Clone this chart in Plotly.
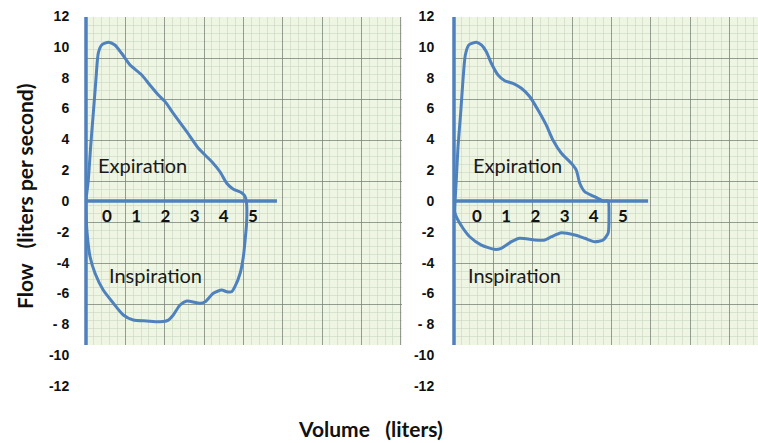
import plotly.graph_objects as go

# ---------------- data ----------------
# Left loop (normal): volume (liters, in tick-label units) and flow (L/s)
left_vol = [-0.72, -0.64, -0.56, -0.47, -0.38, -0.30, -0.18, 0.05, 0.27, 0.50, 0.79, 1.19, 1.47,
            1.76, 1.99, 2.27, 2.73, 3.13, 3.59, 3.87, 4.10, 4.33, 4.61, 4.73, 4.78,
            4.78, 4.73, 4.67, 4.56, 4.38, 4.27, 4.10, 3.93, 3.64, 3.36, 3.19, 2.73, 2.50,
            2.27, 2.10, 1.82, 1.36, 0.90, 0.56, 0.22, -0.13, -0.41, -0.58, -0.68, -0.72, -0.72]
left_flow = [0.0, 1.36, 3.53, 5.69, 7.86, 9.59, 10.13, 10.31, 10.13, 9.59, 8.83, 8.18, 7.53,
             6.88, 6.45, 5.69, 4.50, 3.42, 2.55, 1.90, 1.15, 0.76, 0.54, 0.28, -0.15,
             -1.45, -2.53, -3.62, -4.69, -5.56, -5.89, -5.89, -5.78, -5.99, -6.54, -6.64, -6.49, -6.75,
             -7.40, -7.73, -7.84, -7.79, -7.73, -7.40, -6.64, -5.78, -4.69, -3.62, -2.10, -0.58, 0.0]

# Right loop
right_vol = [-0.75, -0.71, -0.65, -0.56, -0.48, -0.40, -0.28, -0.02, 0.15, 0.32, 0.49, 0.72, 0.95,
             1.23, 1.52, 1.81, 2.09, 2.37, 2.60, 2.89, 3.23, 3.40, 3.52, 3.69, 4.03, 4.32,
             4.49, 4.52, 4.49, 4.32, 4.03, 3.69, 3.35, 2.89, 2.55, 2.32, 1.98, 1.46, 1.18,
             0.83, 0.61, 0.15, -0.25, -0.48, -0.71, -0.76, -0.75]
right_flow = [0.0, 1.36, 3.53, 5.69, 7.86, 9.48, 10.13, 10.31, 10.13, 9.69, 8.94, 8.18, 7.81,
              7.64, 7.32, 6.77, 5.91, 4.94, 3.96, 3.10, 2.45, 2.01, 1.15, 0.60, 0.28, 0.0,
              0.0, -1.0, -2.1, -2.53, -2.64, -2.42, -2.21, -2.06, -2.32, -2.53, -2.53, -2.42, -2.64,
              -3.07, -3.14, -2.86, -2.32, -1.77, -1.02, -0.69, 0.0]

x_ticks = [0, 1, 2, 3, 4, 5]
y_ticks = [12, 10, 8, 6, 4, 2, 0, -2, -4, -6, -8, -10, -12]
y_tick_text = ["12", "10", "8", "6", "4", "2", "0", "-2", "-4", "-6", "- 8", "-10", "-12"]

# ---------------- layout helpers ----------------
W, H = 758, 443
def px(v):
    return v / W
def py(v):
    return 1 - v / H

BLUE = "#4f81bd"
GRID_BG = "#eef6e3"
MAJOR = "rgba(115,125,115,0.75)"
MINOR = "rgba(205,218,198,0.7)"

fig = go.Figure()

fig.add_trace(go.Scatter(x=left_vol, y=left_flow, xaxis="x3", yaxis="y3", mode="lines",
                         line=dict(color=BLUE, width=3, shape="spline", smoothing=0.6),
                         showlegend=False, hoverinfo="skip"))
fig.add_trace(go.Scatter(x=right_vol, y=right_flow, xaxis="x4", yaxis="y4", mode="lines",
                         line=dict(color=BLUE, width=3, shape="spline", smoothing=0.6),
                         showlegend=False, hoverinfo="skip"))
fig.add_trace(go.Scatter(x=[None], y=[None], xaxis="x", yaxis="y", showlegend=False))
fig.add_trace(go.Scatter(x=[None], y=[None], xaxis="x2", yaxis="y2", showlegend=False))

grid_y_dom = [py(345), py(17)]
left_x_dom = [px(86), px(402)]
right_x_dom = [px(454), 1.0]
data_y_dom = [py(386), py(16)]

def grid_axis(dom, rng, anchor):
    return dict(domain=dom, range=rng, anchor=anchor, showticklabels=False, ticks="",
                showgrid=True, gridcolor=MAJOR, gridwidth=1, dtick=1, tick0=0,
                zeroline=False, showline=False, fixedrange=True, automargin=False,
                minor=dict(showgrid=True, dtick=0.2, gridcolor=MINOR, gridwidth=1))

y_data_range = [-12.01, 12.01]
x_pos = py(200)

def data_x(dom, rng):
    return dict(domain=dom, range=rng, anchor="free", position=x_pos, showgrid=False,
                zeroline=False, showline=False, tickmode="array", tickvals=x_ticks,
                ticks="outside", ticklen=1, tickcolor="rgba(0,0,0,0)", automargin=False,
                tickfont=dict(family="Lato", size=17, color="#111111", weight="bold"),
                fixedrange=True)

def data_y(rng, anchor, tl):
    return dict(domain=data_y_dom, range=rng, anchor=anchor, showgrid=False,
                zeroline=False, showline=False, tickmode="array", tickvals=y_ticks,
                ticktext=y_tick_text, ticks="outside", ticklen=tl, automargin=False,
                tickcolor="rgba(0,0,0,0)",
                tickfont=dict(family="Liberation Sans", size=14, color="#111111", weight="bold"),
                fixedrange=True)

fig.update_layout(
    template="none",
    width=W, height=H, margin=dict(l=0, r=0, t=0, b=0, autoexpand=False),
    paper_bgcolor="white", plot_bgcolor="rgba(0,0,0,0)", showlegend=False,
    xaxis=grid_axis(left_x_dom, [0, 316 / 39.35], "y"),
    yaxis=grid_axis(grid_y_dom, [0, 8], "x"),
    xaxis2=grid_axis(right_x_dom, [0, 304 / 39.35], "y2"),
    yaxis2=grid_axis(grid_y_dom, [0, 8], "x2"),
    xaxis3=data_x(left_x_dom, [(86 - 107) / 29.2, (402 - 107) / 29.2]),
    yaxis3=data_y(y_data_range, "x3", 13),
    xaxis4=data_x(right_x_dom, [(454 - 477) / 29.2, (758 - 477) / 29.2]),
    yaxis4=data_y(y_data_range, "x4", 16),
)

# green paper backgrounds
for xr, yr in (("x domain", "y domain"), ("x2 domain", "y2 domain")):
    fig.add_shape(type="rect", xref=xr, yref=yr, x0=0, x1=1, y0=0, y1=1,
                  fillcolor=GRID_BG, line=dict(width=0), layer="below")
# blue axis lines
for xr, yr in (("x domain", "y domain"), ("x2 domain", "y2 domain")):
    fig.add_shape(type="line", xref=xr, yref=yr, x0=0, x1=0, y0=0, y1=1,
                  line=dict(color=BLUE, width=3.5), layer="above")
fig.add_shape(type="line", xref="x3", yref="y3", x0=(86 - 107) / 29.2, x1=5.82, y0=0, y1=0,
              line=dict(color=BLUE, width=3.5))
fig.add_shape(type="line", xref="x4", yref="y4", x0=(454 - 477) / 29.2, x1=5.86, y0=0, y1=0,
              line=dict(color=BLUE, width=3.5))

label_font = dict(family="Lato", size=20, color="#1a1a1a")
fig.add_annotation(x=1.2, y=2.34, xref="x3", yref="y3", text="Expiration", showarrow=False, font=label_font)
fig.add_annotation(x=1.66, y=-4.8, xref="x3", yref="y3", text="Inspiration", showarrow=False, font=label_font)
fig.add_annotation(x=1.37, y=2.34, xref="x4", yref="y4", text="Expiration", showarrow=False, font=label_font)
fig.add_annotation(x=1.30, y=-4.8, xref="x4", yref="y4", text="Inspiration", showarrow=False, font=label_font)

title_font = dict(family="Lato", size=21, color="#111111", weight="bold")
fig.add_annotation(x=px(370), y=py(428), xref="paper", yref="paper", text="Volume &nbsp; (liters)",
                   showarrow=False, font=title_font, xanchor="center", yanchor="middle")
fig.add_annotation(x=px(24), y=py(196), xref="paper", yref="paper", text="Flow &nbsp; (liters per second)",
                   showarrow=False, font=title_font, textangle=-90, xanchor="center", yanchor="middle")

fig.write_html("out.html", config={"displayModeBar": False},
               post_script="document.body.style.margin='0';document.body.style.overflow='hidden';")
